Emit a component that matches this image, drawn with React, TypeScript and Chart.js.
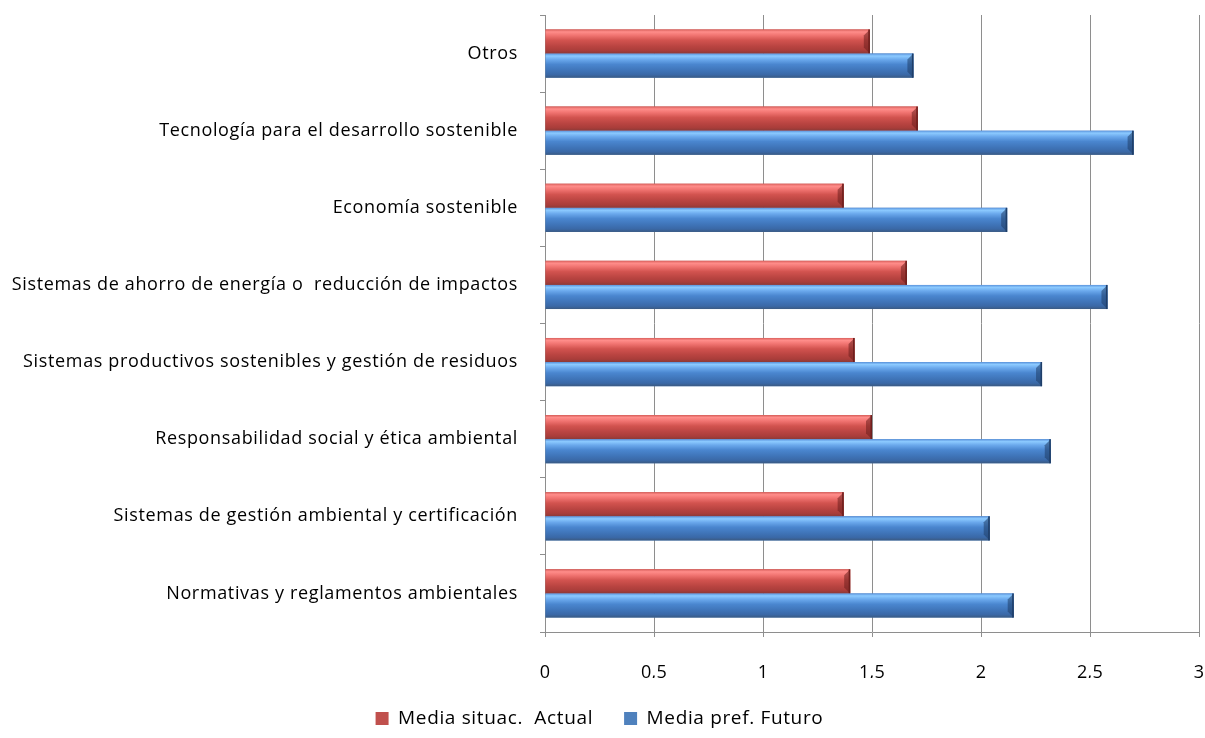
import React, { useEffect, useRef } from "react";
import { Chart, registerables } from "chart.js";

Chart.register(...registerables);

const categories = [
  "Otros",
  "Tecnología para el desarrollo sostenible",
  "Economía sostenible",
  "Sistemas de ahorro de energía o  reducción de impactos",
  "Sistemas productivos sostenibles y gestión de residuos",
  "Responsabilidad social y ética ambiental",
  "Sistemas de gestión ambiental y certificación",
  "Normativas y reglamentos ambientales",
];
const seriesNames = ["Media situac.  Actual", "Media pref. Futuro"];
const actualValues = [1.49, 1.71, 1.37, 1.66, 1.42, 1.5, 1.37, 1.4];
const futureValues = [1.69, 2.7, 2.12, 2.58, 2.28, 2.32, 2.04, 2.15];
const xTicks = [0, 0.5, 1, 1.5, 2, 2.5, 3];
const xTickLabels = ["0", "0,5", "1", "1,5", "2", "2,5", "3"];

const FONT = "'Open Sans', 'Liberation Sans', sans-serif";
const LETTER_SPACING = "0.65px";

const palettes = [
  {
    solid: "#c0504d",
    stops: ["#d9605c", "#ff8d8a", "#f07370", "#d2534f", "#b94441", "#a93d3a", "#8a3a38"],
    end: "#6e1f1d",
  },
  {
    solid: "#4f81bd",
    stops: ["#5a93dc", "#8ccaff", "#6aa8ec", "#4a86cf", "#3f74b8", "#3a68a6", "#3b5a82"],
    end: "#1f3e68",
  },
];

const spacingPlugin = {
  id: "spacing",
  beforeUpdate(chart: any) {
    chart.ctx.letterSpacing = LETTER_SPACING;
  },
  beforeLayout(chart: any) {
    chart.ctx.letterSpacing = LETTER_SPACING;
  },
  beforeDraw(chart: any) {
    chart.ctx.letterSpacing = LETTER_SPACING;
  },
  afterDatasetsDraw(chart: any) {
    // x-axis tick labels are drawn after the datasets (z: 1) with normal spacing
    chart.ctx.letterSpacing = "0.3px";
  },
  afterDraw(chart: any) {
    chart.ctx.letterSpacing = LETTER_SPACING;
  },
};

const bevelPlugin = {
  id: "bevel",
  afterDatasetsDraw(chart: any) {
    const ctx = chart.ctx;
    chart.data.datasets.forEach((_: any, di: number) => {
      const meta = chart.getDatasetMeta(di);
      const pal = palettes[di];
      meta.data.forEach((bar: any) => {
        const { x, y, base, height } = bar.getProps(["x", "y", "base", "height"], true);
        const top = y - height / 2;
        const bottom = y + height / 2;
        const left = Math.min(base, x);
        const right = Math.max(base, x);
        const g = ctx.createLinearGradient(0, top, 0, bottom);
        const pos = [0, 0.1, 0.25, 0.45, 0.7, 0.88, 1];
        pos.forEach((p, i) => g.addColorStop(p, pal.stops[i]));
        ctx.save();
        ctx.fillStyle = g;
        ctx.fillRect(left, top, right - left, height);
        const b = Math.min(6, height / 4);
        ctx.fillStyle = pal.end;
        ctx.globalAlpha = 0.55;
        ctx.beginPath();
        ctx.moveTo(right - b, top + b);
        ctx.lineTo(right, top);
        ctx.lineTo(right, bottom);
        ctx.lineTo(right - b, bottom - b);
        ctx.closePath();
        ctx.fill();
        ctx.globalAlpha = 1;
        ctx.fillStyle = pal.end;
        ctx.fillRect(right - 1.5, top, 1.5, height);
        ctx.restore();
      });
    });
  },
};

export default function App() {
  const ref = useRef<HTMLCanvasElement>(null);
  useEffect(() => {
    document.body.style.margin = "0";
    const canvas = ref.current!;
    const chart = new Chart(canvas, {
      type: "bar",
      data: {
        labels: categories,
        datasets: [
          {
            label: seriesNames[0],
            data: actualValues,
            backgroundColor: palettes[0].solid,
            categoryPercentage: 0.625,
            barPercentage: 1,
          },
          {
            label: seriesNames[1],
            data: futureValues,
            backgroundColor: palettes[1].solid,
            categoryPercentage: 0.625,
            barPercentage: 1,
          },
        ],
      },
      plugins: [bevelPlugin, spacingPlugin],
      options: {
        indexAxis: "y",
        animation: false,
        responsive: false,
        maintainAspectRatio: false,
        layout: { padding: { top: 15, right: 6, bottom: 0, left: 0 } },
        scales: {
          x: {
            min: 0,
            max: 3,
            afterBuildTicks: (scale: any) => {
              scale.ticks = xTicks.map((v) => ({ value: v }));
            },
            afterFit: (scale: any) => {
              scale.paddingLeft = 0;
              scale.paddingRight = 0;
              scale.height = 46;
            },
            ticks: {
              color: "#000",
              font: { family: FONT, size: 18 },
              padding: 25,
              maxRotation: 0,
              z: 1,
              callback: (_v: any, i: number) => xTickLabels[i],
            },
            grid: { color: "#8e8e8e", lineWidth: 1, tickLength: 5 },
            border: { color: "#8e8e8e" },
          },
          y: {
            afterFit: (scale: any) => {
              scale.width = 545;
              scale.paddingTop = 0;
              scale.paddingBottom = 0;
            },
            ticks: {
              color: "#000",
              font: { family: FONT, size: 18 },
              padding: 22,
            },
            grid: {
              drawOnChartArea: false,
              drawTicks: true,
              tickLength: 5,
              offset: true,
              color: "#8e8e8e",
            },
            border: { color: "#8e8e8e" },
          },
        },
        plugins: {
          tooltip: { enabled: false },
          legend: {
            position: "bottom",
            labels: {
              color: "#000",
              font: { family: FONT, size: 19 },
              boxWidth: 13,
              boxHeight: 13,
              padding: 31,
            },
          },
        },
      } as any,
    });
    return () => chart.destroy();
  }, []);
  return (
    <div style={{ width: 1205, height: 738, overflow: "hidden" }}>
      <canvas ref={ref} width={1205} height={738} style={{ display: "block", width: 1205, height: 738 }} />
    </div>
  );
}
